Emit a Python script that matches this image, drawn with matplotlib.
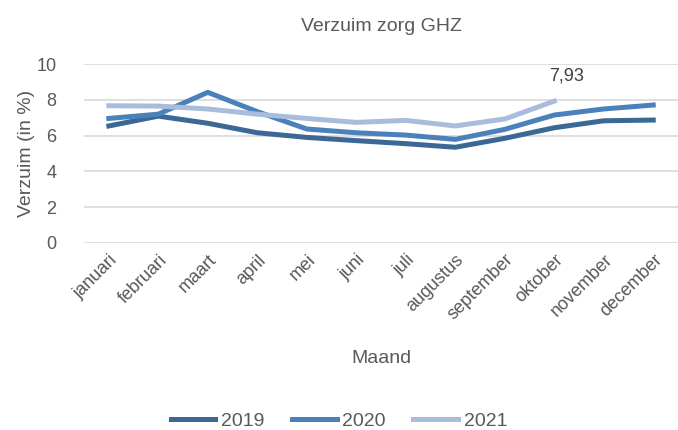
import matplotlib.pyplot as plt

# data
maanden = ['januari', 'februari', 'maart', 'april', 'mei', 'juni', 'juli',
           'augustus', 'september', 'oktober', 'november', 'december']
verzuim_2019 = [6.54, 7.09, 6.69, 6.16, 5.90, 5.72, 5.55, 5.35, 5.85, 6.44, 6.83, 6.87]
verzuim_2020 = [6.96, 7.20, 8.42, 7.34, 6.37, 6.16, 6.03, 5.79, 6.35, 7.15, 7.49, 7.71]
verzuim_2021 = [7.67, 7.65, 7.49, 7.20, 6.96, 6.74, 6.85, 6.54, 6.93, 7.93]

plt.rcParams['font.family'] = ['Liberation Sans', 'DejaVu Sans']
tekst = '#595959'

fig = plt.figure(figsize=(6.78, 4.30), dpi=100)
ax = fig.add_axes([0.124, 0.435, 0.876, 0.416])

x = list(range(len(maanden)))
ax.plot(x, verzuim_2019, color='#3b6895', lw=3.6, label='2019')
ax.plot(x, verzuim_2020, color='#4a81bb', lw=3.6, label='2020')
ax.plot(x[:len(verzuim_2021)], verzuim_2021, color='#a9bcdc', lw=3.6, label='2021')

# label for the last 2021 value
ax.annotate(f'{verzuim_2021[-1]:.2f}'.replace('.', ','),
            (len(verzuim_2021) - 1, verzuim_2021[-1]),
            xytext=(9, 12), textcoords='offset points',
            ha='center', va='bottom', fontsize=13, color='#404040')

ax.set_xlim(-0.5, len(maanden) - 0.5)
ax.set_ylim(0, 10)
ax.set_yticks([0, 2, 4, 6, 8, 10])
ax.set_xticks(x)
ax.set_xticklabels(maanden, rotation=45, ha='right', rotation_mode='anchor')
ax.tick_params(axis='both', length=0, labelsize=13, colors=tekst)
ax.tick_params(axis='y', pad=20)
ax.tick_params(axis='x', pad=6)
ax.grid(axis='y', color='#d9d9d9', lw=1.2)
ax.set_axisbelow(True)
for s in ax.spines.values():
    s.set_visible(False)

ax.set_title('Verzuim zorg GHZ', fontsize=14, color=tekst, pad=24)
ax.set_xlabel('Maand', fontsize=14, color=tekst, labelpad=19)
ax.set_ylabel('Verzuim (in %)', fontsize=14, color=tekst, labelpad=1)

fig.legend(loc='lower center', bbox_to_anchor=(0.5, -0.04), ncol=3, frameon=False,
           fontsize=14, labelcolor=tekst, handlelength=2.3, columnspacing=1.4,
           handletextpad=0.3)

fig.savefig('out.png', dpi=100)
